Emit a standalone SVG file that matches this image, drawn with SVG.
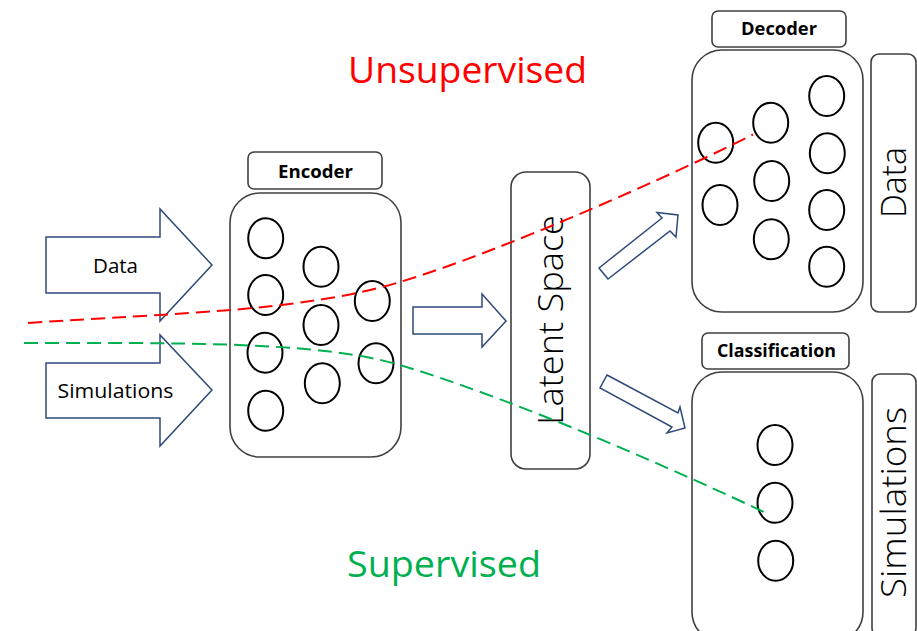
<svg xmlns="http://www.w3.org/2000/svg" width="917" height="631" viewBox="0 0 917 631">
  <style>
    .box { fill: #ffffff; stroke: #404040; stroke-width: 1.6; }
    .neuron { fill: none; stroke: #000000; stroke-width: 2; }
    .arrow { fill: #ffffff; stroke: #2f4a7a; stroke-width: 1.5; stroke-linejoin: miter; }
    .title { font-family: "Open Sans", "Liberation Sans", sans-serif; font-weight: bold; font-size: 18px; fill: #000000; text-anchor: middle; }
    .side { font-family: "Open Sans", "Liberation Sans", sans-serif; font-weight: 300; font-size: 34px; fill: #000000; text-anchor: middle; }
    .inlabel { font-family: "Open Sans", "Liberation Sans", sans-serif; font-size: 20px; fill: #000000; text-anchor: middle; }
    .mode { font-family: "Open Sans", "Liberation Sans", sans-serif; font-size: 36px; }
    .flow { fill: none; stroke-width: 2; stroke-dasharray: 14 7; }
  </style>

  <rect width="917" height="631" fill="#ffffff"/>

  <!-- headings for the two learning modes -->
  <text class="mode" x="348" y="83" fill="#ff0000" textLength="239" lengthAdjust="spacingAndGlyphs">Unsupervised</text>
  <text class="mode" x="347" y="577" fill="#00b050" textLength="194" lengthAdjust="spacingAndGlyphs">Supervised</text>

  <!-- encoder -->
  <g id="encoder">
    <rect class="box" x="248" y="152" width="134" height="37" rx="6"/>
    <text class="title" x="315.5" y="178" textLength="75" lengthAdjust="spacingAndGlyphs">Encoder</text>
    <rect class="box" x="230" y="193" width="171" height="264" rx="30"/>
    <ellipse class="neuron" cx="265.7" cy="238.3" rx="17.5" ry="20"/>
    <ellipse class="neuron" cx="265.7" cy="295" rx="17.5" ry="20"/>
    <ellipse class="neuron" cx="265" cy="352.7" rx="17.5" ry="20"/>
    <ellipse class="neuron" cx="265.7" cy="410.7" rx="17.5" ry="20"/>
    <ellipse class="neuron" cx="321" cy="266.7" rx="17.5" ry="20"/>
    <ellipse class="neuron" cx="321" cy="325" rx="17.5" ry="20"/>
    <ellipse class="neuron" cx="322.3" cy="383.3" rx="17.5" ry="20"/>
    <ellipse class="neuron" cx="372.3" cy="301" rx="17.5" ry="20"/>
    <ellipse class="neuron" cx="376" cy="363.3" rx="17.5" ry="20"/>
  </g>

  <!-- latent space -->
  <g id="latent">
    <rect class="box" x="511" y="172" width="79" height="297" rx="15"/>
    <text class="side" transform="translate(563,320) rotate(-90)" x="0" y="0" textLength="210" lengthAdjust="spacingAndGlyphs">Latent Space</text>
  </g>

  <!-- decoder -->
  <g id="decoder">
    <rect class="box" x="712" y="11" width="134" height="36" rx="6"/>
    <text class="title" x="779" y="35" textLength="76" lengthAdjust="spacingAndGlyphs">Decoder</text>
    <rect class="box" x="692" y="50" width="171" height="262" rx="30"/>
    <ellipse class="neuron" cx="715.7" cy="142.7" rx="17.5" ry="20"/>
    <ellipse class="neuron" cx="720" cy="205" rx="17.5" ry="20"/>
    <ellipse class="neuron" cx="770.7" cy="122.7" rx="17.5" ry="20"/>
    <ellipse class="neuron" cx="771.7" cy="181" rx="17.5" ry="20"/>
    <ellipse class="neuron" cx="771.3" cy="239.3" rx="17.5" ry="20"/>
    <ellipse class="neuron" cx="826.7" cy="96" rx="17.5" ry="20"/>
    <ellipse class="neuron" cx="827.3" cy="153.3" rx="17.5" ry="20"/>
    <ellipse class="neuron" cx="826.7" cy="210" rx="17.5" ry="20"/>
    <ellipse class="neuron" cx="826.7" cy="266.7" rx="17.5" ry="20"/>
  </g>

  <g id="data-output">
    <rect class="box" x="871" y="54" width="45" height="258" rx="8"/>
    <text class="side" transform="translate(906,182.5) rotate(-90)" x="0" y="0" textLength="71" lengthAdjust="spacingAndGlyphs">Data</text>
  </g>

  <!-- classification -->
  <g id="classification">
    <rect class="box" x="702" y="333" width="147" height="36" rx="6"/>
    <text class="title" x="776.5" y="357" textLength="119" lengthAdjust="spacingAndGlyphs">Classification</text>
    <rect class="box" x="692" y="372" width="171" height="270" rx="30"/>
    <ellipse class="neuron" cx="775" cy="445" rx="17.5" ry="20"/>
    <ellipse class="neuron" cx="775" cy="502.7" rx="17.5" ry="20"/>
    <ellipse class="neuron" cx="775.7" cy="560.7" rx="17.5" ry="20"/>
  </g>

  <g id="simulations-output">
    <rect class="box" x="872" y="374" width="44" height="262" rx="8"/>
    <text class="side" transform="translate(906,502.5) rotate(-90)" x="0" y="0" textLength="191" lengthAdjust="spacingAndGlyphs">Simulations</text>
  </g>

  <!-- block arrows between stages -->
  <g id="connectors">
    <g id="data-input">
      <polygon class="arrow" points="46,237 160,237 160,209 212,265 160,321 160,293 46,293"/>
      <text class="inlabel" x="115.5" y="273" textLength="45" lengthAdjust="spacingAndGlyphs">Data</text>
    </g>
    <g id="simulations-input">
      <polygon class="arrow" points="46,363 160,363 160,335 212,390 160,446 160,418 46,418"/>
      <text class="inlabel" x="115.5" y="398" textLength="116" lengthAdjust="spacingAndGlyphs">Simulations</text>
    </g>
    <polygon class="arrow" points="413,307 482,307 482,294 506,321 482,347 482,334 413,334"/>
    <polygon class="arrow" points="599,268 662,218 657,212.5 678,215 676,237 670,231 608,279"/>
    <polygon class="arrow" points="607,375 678,413 680,407 685,428 667,433 672,427 600,388"/>
  </g>

  <!-- dashed learning paths -->
  <g id="paths">
    <path class="flow" stroke="#ff0000" d="M28,323 C178,312.5 300,312 400,282 C500,252 673,175 753,134.5"/>
    <path class="flow" stroke="#00b050" d="M24,343 C174,343 320,341 400,365 C520,401 686,475 766,513"/>
  </g>
</svg>
